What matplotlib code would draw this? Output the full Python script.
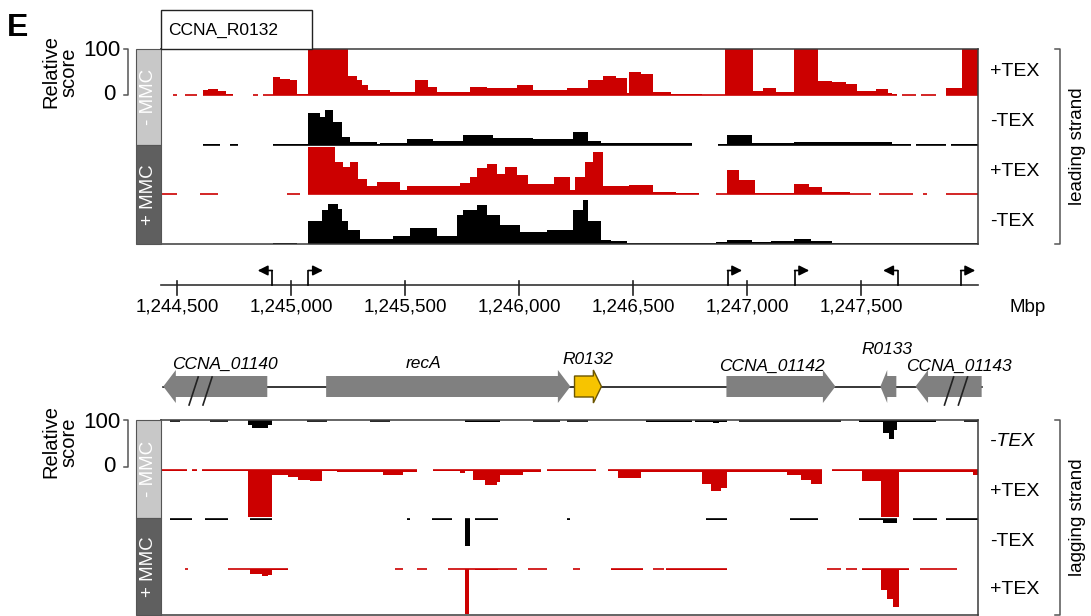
import numpy as np
import matplotlib
matplotlib.use('Agg')
import matplotlib.pyplot as plt
from matplotlib.patches import Rectangle, Polygon
from matplotlib.lines import Line2D

nan = np.nan

# ---- coverage data (genome position breakpoints in bp, relative score per interval) ----
# leading strand, -MMC, +TEX
lead1_pos = [1244482, 1244500, 1244535, 1244588, 1244614, 1244636, 1244680, 1244715, 1244746, 1244834,
             1244856, 1244878, 1244921, 1244952, 1244996, 1245027, 1245075, 1245251, 1245290, 1245312,
             1245338, 1245435, 1245510, 1245545, 1245602, 1245641, 1245786, 1245861, 1245993, 1246063,
             1246212, 1246300, 1246366, 1246423, 1246471, 1246484, 1246533, 1246585, 1246664, 1246756,
             1246800, 1246901, 1247024, 1247068, 1247125, 1247204, 1247309, 1247371, 1247433, 1247481,
             1247564, 1247617, 1247634, 1247656, 1247678, 1247740, 1247762, 1247828, 1247872, 1247942,
             1248012]
lead1_val = [1, nan, 1, nan, 10, 12, 8, 3, nan, 1,
             nan, 1, 38, 35, 32, 2, 100, 41, 32, 21,
             11, 6, 7, 32, 18, 7, 18, 14, 21, 11,
             16, 32, 40, 36, 5, 50, 45, 6, 3, 2,
             1, 100, 8, 14, 6, 100, 30, 27, 24, 8,
             12, 5, 3, nan, 1, nan, 1, nan, 14, 100]

# leading strand, -MMC, -TEX
lead2_pos = [1244614, 1244690, 1244733, 1244768, 1244921, 1245009, 1245075, 1245128, 1245150, 1245185,
             1245224, 1245259, 1245378, 1245391, 1245510, 1245624, 1245756, 1245887, 1246063, 1246238,
             1246300, 1246357, 1246756, 1246871, 1246910, 1247020, 1247204, 1247573, 1247634, 1247718,
             1247740, 1247872, 1247894, 1248012]
lead2_val = [1, nan, 1, nan, 1, 2, 68, 59, 75, 48,
             16, 6, 2, 4, 13, 9, 21, 15, 12, 28,
             9, 3, nan, 1, 22, 3, 7, 6, 2, nan,
             2, nan, 2]

# leading strand, +MMC, +TEX
lead3_pos = [1244430, 1244500, 1244601, 1244680, 1244983, 1245040, 1245075, 1245194, 1245229, 1245259,
             1245295, 1245334, 1245378, 1245479, 1245510, 1245742, 1245786, 1245817, 1245861, 1245905,
             1245940, 1245993, 1246037, 1246151, 1246225, 1246247, 1246291, 1246326, 1246366, 1246484,
             1246585, 1246686, 1246787, 1246862, 1246910, 1246962, 1247033, 1247204, 1247270, 1247327,
             1247450, 1247542, 1247577, 1247727, 1247771, 1247788, 1247872, 1248012]
lead3_val = [1, nan, 1, nan, 1, nan, 100, 69, 58, 69,
             33, 18, 25, 9, 17, 23, 37, 55, 65, 44,
             58, 40, 21, 37, 9, 37, 69, 90, 18, 20,
             5, 2, nan, 1, 52, 30, 2, 22, 15, 4,
             1, nan, 1, nan, 1, nan, 1]

# leading strand, +MMC, -TEX
lead4_pos = [1244921, 1245027, 1245075, 1245137, 1245160, 1245205, 1245224, 1245251, 1245303, 1245448,
             1245523, 1245641, 1245729, 1245756, 1245817, 1245861, 1245918, 1246006, 1246124, 1246238,
             1246282, 1246304, 1246357, 1246401, 1246471, 1246862, 1246910, 1247020, 1247103, 1247204,
             1247279, 1247371, 1248012]
lead4_val = [3, nan, 49, 72, 86, 75, 48, 30, 11, 16,
             33, 16, 62, 72, 83, 62, 40, 25, 30, 72,
             94, 48, 9, 6, 3, 4, 9, 4, 6, 10,
             7, 2]

# lagging strand, -MMC, -TEX
lag1_pos = [1244469, 1244513, 1244645, 1244724, 1244812, 1244829, 1244899, 1244917, 1245071, 1245159,
            1245347, 1245435, 1245764, 1245918, 1246063, 1246181, 1246212, 1246300, 1246555, 1246756,
            1246770, 1246849, 1246875, 1246910, 1246962, 1247411, 1247489, 1247595, 1247621, 1247643,
            1247656, 1247828, 1247951, 1248012]
lag1_val = [1, nan, 1, nan, 8, 14, 8, nan, 1, nan,
            1, nan, 3, nan, 1, nan, 1, nan, 2, nan,
            2, 5, 2, nan, 1, nan, 3, 25, 38, 20,
            3, nan, 1]

# lagging strand, -MMC, +TEX
lag2_pos = [1244434, 1244544, 1244566, 1244588, 1244610, 1244777, 1244812, 1244917, 1244987, 1245031,
            1245084, 1245137, 1245202, 1245404, 1245492, 1245554, 1245624, 1245742, 1245764, 1245799,
            1245852, 1245905, 1245918, 1246019, 1246094, 1246124, 1246339, 1246388, 1246432, 1246533,
            1246800, 1246840, 1246884, 1246910, 1247173, 1247235, 1247279, 1247327, 1247371, 1247503,
            1247586, 1247665, 1247990, 1248012]
lag2_val = [1, nan, 1, nan, 1, 2, 100, 11, 14, 20,
            23, 1, 3, 11, 3, nan, 2, 5, 2, 20,
            32, 25, 11, 3, nan, 1, nan, 1, 16, 3,
            30, 45, 38, 3, 10, 20, 30, nan, 2, 23,
            100, 4, 10]

# lagging strand, +MMC, -TEX
lag3_pos = [1244469, 1244566, 1244623, 1244724, 1244820, 1244917, 1245510, 1245523, 1245620, 1245707,
            1245764, 1245786, 1245808, 1245909, 1246208, 1246225, 1246818, 1246910, 1247186, 1247309,
            1247489, 1247595, 1247656, 1247727, 1247832, 1247872, 1248012]
lag3_val = [1, nan, 1, nan, 2, nan, 1, nan, 1, nan,
            57, nan, 1, nan, 1, nan, 1, nan, 1, nan,
            1, 8, nan, 2, nan, 1]

# lagging strand, +MMC, +TEX
lag4_pos = [1244535, 1244548, 1244724, 1244820, 1244873, 1244899, 1244917, 1244987, 1245457, 1245492,
            1245554, 1245598, 1245690, 1245764, 1245782, 1245808, 1245909, 1245993, 1246037, 1246124,
            1246238, 1246269, 1246401, 1246542, 1246585, 1246634, 1246642, 1246910, 1247349, 1247411,
            1247433, 1247481, 1247503, 1247586, 1247613, 1247639, 1247665, 1247709, 1247757, 1247920]
lag4_val = [1, nan, 1, 10, 15, 12, 3, nan, 1, nan,
            1, nan, 1, 95, 1, 3, 1, nan, 1, nan,
            1, nan, 2, nan, 1, nan, 2, nan, 1, nan,
            1, nan, 2, 45, 65, 80, 2, nan, 1]

# ---- annotation ----
axis_ticks = [1244500, 1245000, 1245500, 1246000, 1246500, 1247000, 1247500]
tss_pos = [1244918, 1245076, 1246914, 1247208, 1247660, 1247936]
tss_dir = [-1, 1, 1, 1, -1, 1]

gene_names = ['CCNA_01140', 'recA', 'R0132', 'CCNA_01142', 'R0133', 'CCNA_01143']
gene_start = [1244440, 1245154, 1246243, 1246909, 1247584, 1247738]
gene_end = [1244896, 1246225, 1246361, 1247387, 1247654, 1248028]
gene_strand = [-1, 1, 1, 1, -1, -1]
gene_breaks = {'CCNA_01140': (1244553, 1244614), 'CCNA_01143': (1247865, 1247926)}
label_x = [1244711, 1245580, 1246304, 1247108, 1247612, 1247929]
label_y = [364, 364, 359, 366, 349, 366]

tex_labels = ['+TEX', '-TEX', '+TEX', '-TEX']
lag_tex_labels = ['-TEX', '+TEX', '-TEX', '+TEX']

XMIN, XMAX = 1244430, 1248012
RED = '#cc0000'

plt.rcParams['font.family'] = ['Liberation Sans', 'DejaVu Sans']

W, H = 1091, 616
fig = plt.figure(figsize=(W / 100, H / 100), dpi=100)


def fx(x):
    return x / W


def fy(y):
    return 1 - y / H


def px_axes(x0, y0, x1, y1):
    return fig.add_axes([x0 / W, 1 - y1 / H, (x1 - x0) / W, (y1 - y0) / H])


def rect_px(x0, y0, x1, y1, **kw):
    fig.add_artist(Rectangle((fx(x0), fy(y1)), (x1 - x0) / W, (y1 - y0) / H,
                             transform=fig.transFigure, **kw))


def line_px(xs, ys, **kw):
    fig.add_artist(Line2D([fx(x) for x in xs], [fy(y) for y in ys],
                          transform=fig.transFigure, **kw))


def draw_track(ax, pos, val, base, color, sign=1):
    pos = np.asarray(pos, float)
    val = np.asarray(val, float)
    assert len(pos) == len(val) + 1
    ok = ~np.isnan(val)
    i, n = 0, len(val)
    while i < n:
        if not ok[i]:
            i += 1
            continue
        j = i
        while j + 1 < n and ok[j + 1]:
            j += 1
        xs = pos[i:j + 2]
        ys = np.append(val[i:j + 1], val[j])
        ax.fill_between(xs, base, base + sign * ys, step='post', color=color, lw=0)
        ax.hlines(base, xs[0], xs[-1], color=color, lw=1.2)
        i = j + 1


def style_box(ax):
    ax.set_xlim(XMIN, XMAX)
    ax.set_xticks([])
    ax.set_yticks([])
    for sp in ax.spines.values():
        sp.set_color('#3a3a3a')
        sp.set_linewidth(1.1)


# leading strand panel
ax_lead = px_axes(161, 49, 978, 244)
style_box(ax_lead)
ax_lead.set_ylim(0, 415)
lead_base = [317, 211, 106, 0]
draw_track(ax_lead, lead1_pos, lead1_val, lead_base[0], RED)
draw_track(ax_lead, lead2_pos, lead2_val, lead_base[1], 'black')
draw_track(ax_lead, lead3_pos, lead3_val, lead_base[2], RED)
draw_track(ax_lead, lead4_pos, lead4_val, lead_base[3], 'black')

# lagging strand panel
ax_lag = px_axes(161, 420, 978, 615)
style_box(ax_lag)
ax_lag.set_ylim(0, 415)
lag_base = [413, 308, 204, 98]
draw_track(ax_lag, lag1_pos, lag1_val, lag_base[0], 'black', -1)
draw_track(ax_lag, lag2_pos, lag2_val, lag_base[1], RED, -1)
draw_track(ax_lag, lag3_pos, lag3_val, lag_base[2], 'black', -1)
draw_track(ax_lag, lag4_pos, lag4_val, lag_base[3], RED, -1)

# coordinate axis with TSS arrows
ax_c = px_axes(161, 255, 978, 325)
ax_c.set_xlim(XMIN, XMAX)
ax_c.set_ylim(325, 255)
ax_c.axis('off')
ax_c.plot([XMIN, XMAX], [284.5, 284.5], color='#333333', lw=1.2, clip_on=False)
for t in axis_ticks:
    ax_c.plot([t, t], [280.5, 295], color='#222222', lw=1.2)
    ax_c.text(t, 307, f'{t:,}', ha='center', va='center', fontsize=13.5)
for p, d in zip(tss_pos, tss_dir):
    ax_c.plot([p, p], [284.5, 270.5], color='black', lw=1.2)
    ax_c.annotate('', xy=(p + d * 64, 270.5), xytext=(p, 270.5),
                  arrowprops=dict(arrowstyle='-|>,head_length=0.6,head_width=0.3',
                                  color='black', lw=1.2, shrinkA=0, shrinkB=0))
fig.text(fx(1028), fy(307), 'Mbp', ha='center', va='center', fontsize=13.5)

# gene track
ax_g = px_axes(161, 330, 978, 415)
ax_g.set_xlim(XMIN, XMAX)
ax_g.set_ylim(415, 330)
ax_g.axis('off')
ax_g.plot([gene_start[0], gene_end[-1]], [387, 387], color='black', lw=1.1, zorder=1, clip_on=False)
body, head = (376, 397), (370, 403)
mid = sum(body) / 2
for name, s, e, st, lx, ly in zip(gene_names, gene_start, gene_end, gene_strand, label_x, label_y):
    h = min(55, max(30, 0.3 * (e - s)))
    if st > 0:
        pts = [(s, body[0]), (e - h, body[0]), (e - h, head[0]), (e, mid),
               (e - h, head[1]), (e - h, body[1]), (s, body[1])]
    else:
        pts = [(e, body[0]), (s + h, body[0]), (s + h, head[0]), (s, mid),
               (s + h, head[1]), (s + h, body[1]), (e, body[1])]
    if name == 'R0132':
        poly = Polygon(pts, closed=True, fc='#f7c400', ec='#6b5500', lw=1.0, zorder=3, clip_on=False)
    else:
        poly = Polygon(pts, closed=True, fc='#808080', ec='none', zorder=2, clip_on=False)
    ax_g.add_patch(poly)
    if name in gene_breaks:
        for b in gene_breaks[name]:
            ax_g.plot([b, b + 40], [405, 377], color='#222222', lw=1.2, zorder=4, clip_on=False)
    ax_g.text(lx, ly, name, ha='center', va='center', fontsize=12.5, style='italic')

# left side labels
for (y0, y1, fc, lab) in [(49, 145, '#c8c8c8', '- MMC'), (145, 244, '#5f5f5f', '+ MMC'),
                          (420, 518, '#c8c8c8', '- MMC'), (518, 615, '#5f5f5f', '+ MMC')]:
    rect_px(136, y0, 161, y1, fc=fc, ec='#555555', lw=0.8)
    fig.text(fx(148.5), fy((y0 + y1) / 2), lab, rotation=90, color='white',
             ha='center', va='center', fontsize=13.5)

for (y0, y1, cy) in [(49, 95, 72), (420, 467, 442)]:
    line_px([124, 128, 128, 124], [y0, y0, y1, y1], color='#555555', lw=1.1)
    fig.text(fx(102), fy(y0 + 2), '100', ha='center', va='center', fontsize=16)
    fig.text(fx(109), fy(y1 - 1), '0', ha='center', va='center', fontsize=16)
    fig.text(fx(60), fy(cy), 'Relative\nscore', rotation=90, ha='center', va='center',
             fontsize=14.5, linespacing=0.9)

# right side labels
for lab, y in zip(tex_labels, [72, 121, 171, 221]):
    fig.text(fx(990), fy(y), lab, ha='left', va='center', fontsize=14)
for k, (lab, y) in enumerate(zip(lag_tex_labels, [441, 491, 541, 590])):
    fig.text(fx(990), fy(y), lab, ha='left', va='center', fontsize=14,
             style='italic' if k == 0 else 'normal')
for (y0, y1, lab) in [(49, 244, 'leading strand'), (420, 615, 'lagging strand')]:
    line_px([1055, 1060, 1060, 1055], [y0, y0, y1, y1], color='#555555', lw=1.1)
    fig.text(fx(1078), fy((y0 + y1) / 2), lab, rotation=90, ha='center', va='center', fontsize=13.5)

# header box and panel letter
rect_px(161, 10, 312, 49, fc='white', ec='#222222', lw=1.0)
fig.text(fx(168), fy(30), 'CCNA_R0132', ha='left', va='center', fontsize=12.5)
fig.text(fx(7), fy(28), 'E', ha='left', va='center', fontsize=23, fontweight='bold')

fig.savefig('out.png', dpi=100)
